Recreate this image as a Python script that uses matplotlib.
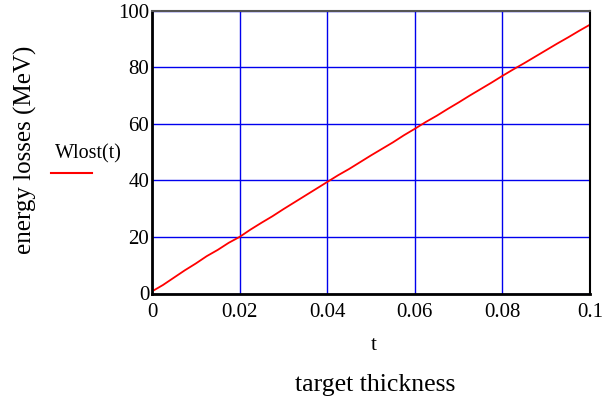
import matplotlib.pyplot as plt

# target thickness t and energy losses Wlost(t)
t = [0.0005, 0.0025, 0.005, 0.0075, 0.01, 0.0125, 0.015, 0.0175, 0.02,
     0.0225, 0.025, 0.0275, 0.03, 0.0325, 0.035, 0.0375, 0.04, 0.0425,
     0.045, 0.0475, 0.05, 0.0525, 0.055, 0.0575, 0.06, 0.0625, 0.065,
     0.0675, 0.07, 0.0725, 0.075, 0.0775, 0.08, 0.0825, 0.085, 0.0875,
     0.09, 0.0925, 0.095, 0.0975, 0.1]
wlost = [1.2, 3.0, 5.6, 8.2, 10.6, 13.2, 15.4, 17.9, 20.0,
         22.6, 25.0, 27.3, 29.8, 32.2, 34.6, 37.0, 39.4, 41.8,
         44.0, 46.4, 48.8, 51.1, 53.4, 55.9, 58.2, 60.6, 62.8,
         65.2, 67.5, 69.9, 72.2, 74.5, 76.9, 79.2, 81.4, 83.7,
         86.0, 88.3, 90.5, 92.8, 95.0]

x_ticks = [0, 0.02, 0.04, 0.06, 0.08, 0.1]
x_labels = ["0", "0.02", "0.04", "0.06", "0.08", "0.1"]
y_ticks = [0, 20, 40, 60, 80, 100]

plt.rcParams["font.family"] = ["Liberation Serif", "DejaVu Serif"]

fig = plt.figure(figsize=(6.11, 4.0), dpi=100)
ax = fig.add_axes([152 / 611, 1 - 293.5 / 400, 438 / 611, 283 / 400])

ax.plot(t, wlost, color="red", linewidth=1.3)

ax.set_xlim(0, 0.1)
ax.set_ylim(0, 100)
ax.set_xticks(x_ticks)
ax.set_xticklabels(x_labels)
ax.set_yticks(y_ticks)
ax.grid(True, color="#0000ee", linewidth=1.0)
ax.tick_params(length=0, labelsize=15)
ax.tick_params(axis="x", pad=7)
ax.tick_params(axis="y", pad=2)

for side in ["left", "bottom"]:
    ax.spines[side].set_linewidth(2.0)
ax.spines["right"].set_linewidth(1.5)
ax.spines["top"].set_linewidth(1.5)
ax.spines["top"].set_color("#555555")

fig.text(374 / 611, 1 - 345 / 400, "t", ha="center", va="center", fontsize=15)
fig.text(375 / 611, 1 - 385 / 400, "target thickness", ha="center",
         va="center", fontsize=18.5)
fig.text(25 / 611, 1 - 150 / 400, "energy losses (MeV)", rotation=90,
         ha="center", va="center", fontsize=18)

# legend
fig.text(88 / 611, 1 - 154 / 400, "Wlost(t)", ha="center", va="center",
         fontsize=14.5)
fig.add_artist(plt.Line2D([51 / 611, 92 / 611], [1 - 173 / 400, 1 - 173 / 400],
                          color="red", linewidth=1.5,
                          transform=fig.transFigure))

fig.savefig("out.png", dpi=100)
